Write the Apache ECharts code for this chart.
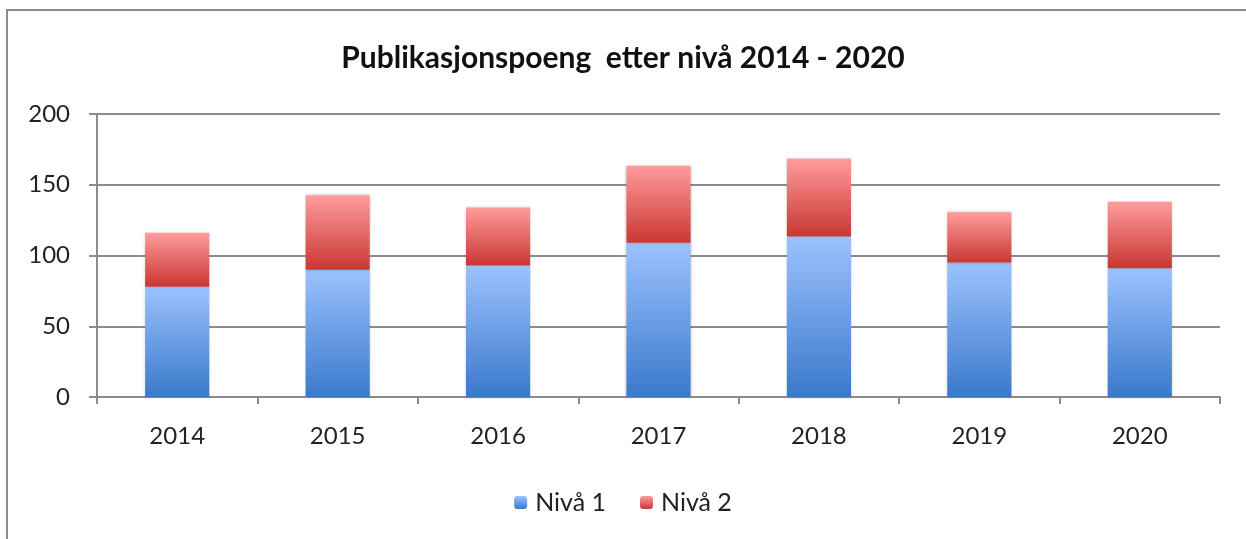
<!DOCTYPE html>
<html>
<head>
<meta charset="utf-8">
<script src="https://cdn.jsdelivr.net/npm/echarts@6/dist/echarts.min.js"></script>
<style>
  html, body { margin: 0; padding: 0; background: #fff; }
  #chart { width: 1246px; height: 539px; }
</style>
</head>
<body>
<div id="chart"></div>
<script>
const years = ['2014', '2015', '2016', '2017', '2018', '2019', '2020'];
const niva1 = [78, 90, 93, 109, 113.5, 95, 91];
const niva2 = [38, 52.5, 41, 54.5, 55, 35.5, 47];
const yTicks = [0, 50, 100, 150, 200];

const chartDom = document.getElementById('chart');
const myChart = echarts.init(chartDom);

function grad(top, bottom) {
    return new echarts.graphic.LinearGradient(0, 0, 0, 1, [
        { offset: 0, color: top },
        { offset: 1, color: bottom }
    ]);
}

const font = 'Lato, "Open Sans", sans-serif';

const option = {
    backgroundColor: '#fff',
    animation: false,
    graphic: [{
        type: 'rect',
        shape: { x: 7, y: 10, width: 1300, height: 600 },
        style: { fill: 'none', stroke: '#8a8a8a', lineWidth: 2 },
        silent: true
    }],
    title: {
        text: 'Publikasjonspoeng  etter nivå 2014 - 2020',
        left: 'center',
        top: 38,
        textStyle: { fontFamily: font, fontSize: 30, fontWeight: 'bold', color: '#111' }
    },
    legend: {
        top: 485,
        left: 'center',
        itemWidth: 13,
        itemHeight: 13,
        itemGap: 34,
        textStyle: { fontFamily: font, fontSize: 25, color: '#222', padding: [0, 0, 0, 3] },
        data: ['Nivå 1', 'Nivå 2']
    },
    grid: { left: 97, right: 26, top: 114, bottom: 142 },
    xAxis: {
        type: 'category',
        data: years,
        axisLine: { lineStyle: { color: '#8c8c8c', width: 2 } },
        axisTick: { show: true, length: 7, lineStyle: { color: '#8c8c8c', width: 2 } },
        axisLabel: { margin: 27, fontFamily: font, fontSize: 24, color: '#222' }
    },
    yAxis: {
        type: 'value',
        min: yTicks[0],
        max: yTicks[yTicks.length - 1],
        interval: 50,
        axisLine: { show: true, lineStyle: { color: '#8c8c8c', width: 2 } },
        axisTick: { show: true, length: 8, lineStyle: { color: '#8c8c8c', width: 2 } },
        splitLine: { lineStyle: { color: '#8c8c8c', width: 2 } },
        axisLabel: { margin: 27, fontFamily: font, fontSize: 24, color: '#222' }
    },
    series: [{
        name: 'Nivå 1',
        type: 'bar',
        stack: 'total',
        barWidth: '40%',
        data: niva1,
        itemStyle: {
            color: grad('#9cc2ff', '#3a79cb'),
            shadowBlur: 3,
            shadowColor: 'rgba(0,0,0,0.25)'
        }
    }, {
        name: 'Nivå 2',
        type: 'bar',
        stack: 'total',
        barWidth: '40%',
        data: niva2,
        itemStyle: {
            color: grad('#ff9c9c', '#c93733'),
            shadowBlur: 3,
            shadowColor: 'rgba(0,0,0,0.25)'
        }
    }]
};
myChart.setOption(option);
</script>
</body>
</html>
